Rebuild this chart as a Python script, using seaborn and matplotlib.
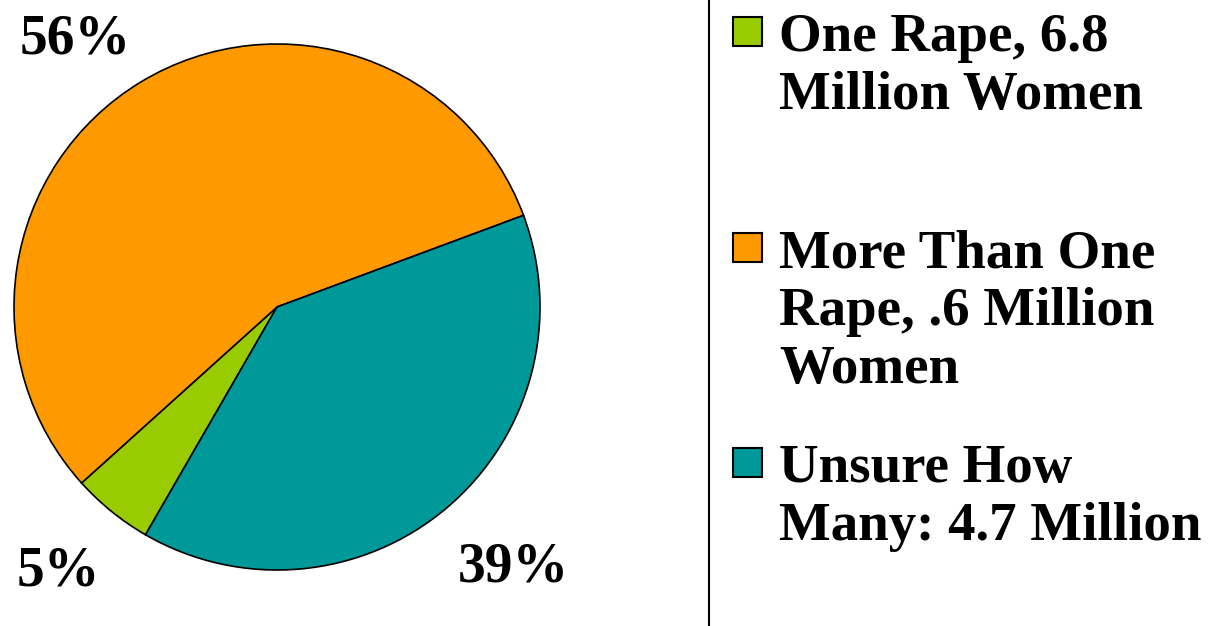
import matplotlib
matplotlib.use("Agg")
import matplotlib.pyplot as plt
from matplotlib.patches import Rectangle
import seaborn as sns

# Share of women raped, by number of rapes
categories = ["One Rape, 6.8\nMillion Women",
              "More Than One\nRape, .6 Million\nWomen",
              "Unsure How\nMany: 4.7 Million"]
shares = [5, 56, 39]
pct_labels = ["5%", "56%", "39%"]
colors = ["#99CC00", "#FF9900", "#009999"]

sns.set_theme(style="white")
plt.rcParams["font.family"] = ["Liberation Serif", "DejaVu Serif"]
plt.rcParams["font.weight"] = "bold"
plt.rcParams["text.color"] = "black"

W, H = 1209, 626
fig = plt.figure(figsize=(W / 100, H / 100), dpi=100)
ax = fig.add_axes([0, 0, 1, 1])

# pie in pixel coordinates (y grows downward, so angles run clockwise on screen)
cx, cy, r = 277, 307, 263
wedges, _ = ax.pie(shares, colors=colors, startangle=-240, counterclock=True,
                   center=(cx, cy), radius=r, frame=True,
                   wedgeprops=dict(edgecolor="black", linewidth=1.2))
ax.set_xlim(0, W)
ax.set_ylim(H, 0)
ax.axis("off")

# percentage labels outside the wedges
label_pos = [(58, 585), (75, 53), (513, 581)]
for (x, y), t in zip(label_pos, pct_labels):
    ax.text(x, y, t, fontsize=40, fontweight="bold", color="black",
            ha="center", va="baseline")

# divider between pie and legend
ax.plot([709, 709], [0, H], color="black", linewidth=1.5)

# legend: evenly spaced slots
first_baselines = [51, 267, 482]
line_pitch = 58
for lab, col, y0 in zip(categories, colors, first_baselines):
    ax.add_patch(Rectangle((733, y0 - 34), 29, 29, facecolor=col,
                           edgecolor="black", linewidth=1.5))
    for i, line in enumerate(lab.split("\n")):
        ax.text(779, y0 + i * line_pitch, line, fontsize=39.5, color="black",
                fontweight="bold", ha="left", va="baseline")

fig.savefig("out.png", dpi=100)
